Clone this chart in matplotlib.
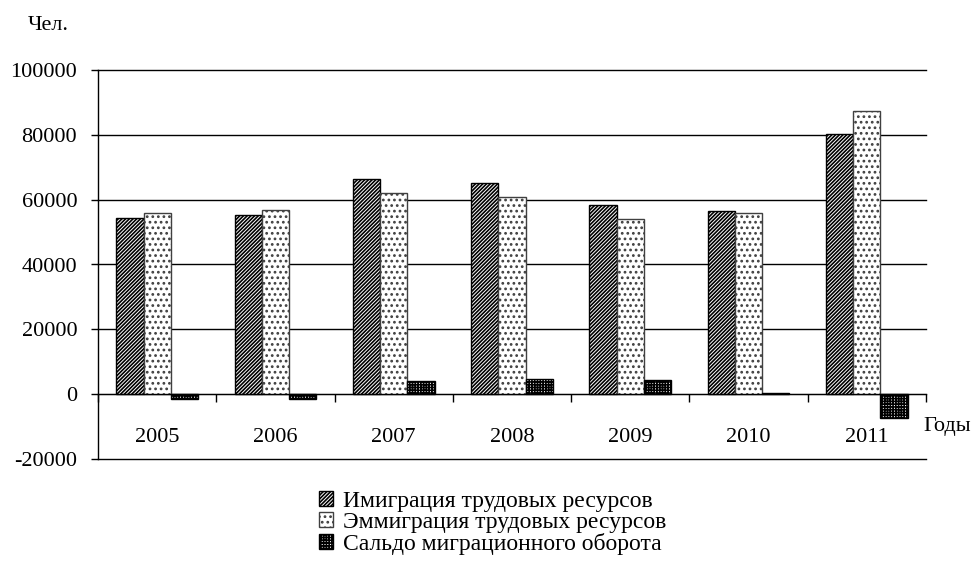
import matplotlib
matplotlib.use("Agg")
import matplotlib.pyplot as plt
import numpy as np

years = ["2005", "2006", "2007", "2008", "2009", "2010", "2011"]
immigration = [54400, 55300, 66400, 65100, 58400, 56500, 80200]
emigration = [55900, 56800, 62100, 60800, 54100, 56000, 87500]
saldo = [-1500, -1500, 4200, 4800, 4300, 500, -7300]
yticks = [-20000, 0, 20000, 40000, 60000, 80000, 100000]
labels = ["Имиграция трудовых ресурсов", "Эммиграция трудовых ресурсов", "Сальдо миграционного оборота"]

plt.rcParams['font.family'] = ['Liberation Serif', 'DejaVu Serif']
plt.rcParams['hatch.linewidth'] = 1.2

fig = plt.figure(figsize=(9.79, 5.66), dpi=100)
ax = fig.add_axes([98/979, 1-459/566, (926-98)/979, (459-70)/566])

x = np.arange(len(years))
w = 0.23
ax.bar(x - w, immigration, w, facecolor='white', edgecolor='black', hatch='/'*9, linewidth=1, label=labels[0], zorder=3)
ax.bar(x, emigration, w, facecolor='white', edgecolor='#404040', hatch='...', linewidth=1, label=labels[1], zorder=3)
ax.bar(x + w, saldo, w, facecolor='white', edgecolor='black', hatch='+'*6, linewidth=1, label=labels[2], zorder=3)

ax.set_xlim(-0.5, len(years) - 0.5)
ax.set_ylim(-20000, 100000)
ax.set_yticks(yticks)
ax.set_yticklabels([str(v) for v in yticks], fontsize=16)
for v in yticks:
    ax.axhline(v, color='black', linewidth=1, zorder=1, clip_on=False)

for s in ['top', 'right']:
    ax.spines[s].set_visible(False)
ax.spines['bottom'].set_position(('data', 0))
ax.spines['bottom'].set_zorder(4)
ax.spines['left'].set_linewidth(1)

ax.set_xticks(np.arange(len(years) + 1) - 0.5)
ax.set_xticklabels([])
ax.set_xticks(x, minor=True)
ax.set_xticklabels(years, minor=True, fontsize=16)
ax.tick_params(axis='x', which='major', direction='out', length=6, width=1)
ax.tick_params(axis='x', which='minor', length=0, pad=24)
ax.tick_params(axis='y', direction='out', length=5, width=1, pad=10)

fig.text(28/979, 1-26/566, "Чел.", fontsize=16, va='center', ha='left')
fig.text(923/979, 1-427/566, "Годы", fontsize=16, va='center', ha='left')

fig.legend(loc='upper left', bbox_to_anchor=(319/979, 1-491/566), frameon=False, fontsize=17,
           handlelength=0.6, handleheight=0.6, handletextpad=0.42, labelspacing=0.0, borderpad=0,
           borderaxespad=0)

fig.savefig("out.png", dpi=100)
